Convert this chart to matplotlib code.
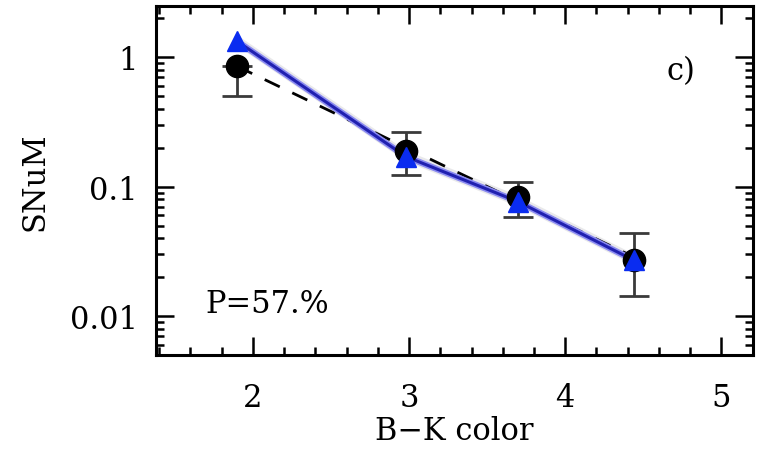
import numpy as np
import matplotlib.pyplot as plt
from matplotlib.ticker import FixedLocator, NullFormatter, LogLocator

# B-K colour bins
bk_color = [1.90, 2.98, 3.70, 4.44]

# observed rates (black circles) with asymmetric errors
snum_obs = [0.85, 0.19, 0.084, 0.027]
snum_lo = [0.50, 0.124, 0.058, 0.0143]
snum_hi = [0.85, 0.267, 0.109, 0.044]

# model rates (blue triangles)
snum_model = [1.33, 0.171, 0.0765, 0.027]

# power-law fit in log10(SNuM) vs colour
fit_x0 = 1.90
fit_logy0 = -0.07
fit_slope = -0.58

prob_text = "P=57.%"
panel_text = "c)"

plt.rcParams['font.family'] = ['DejaVu Serif']
plt.rcParams['mathtext.fontset'] = 'dejavuserif'

fig = plt.figure(figsize=(7.72, 4.52), dpi=100)
ax = fig.add_axes([0.202, 0.212, 0.773, 0.773])
ax.set_yscale('log')

# faint grey band around the model curve
xm = np.array(bk_color)
ym = np.array(snum_model)
ax.fill_between(xm, ym * 0.92, ym * 1.12, color='#d4d4d8', alpha=0.5, lw=0, zorder=1)

# dashed fit
xf = np.linspace(bk_color[0], bk_color[-1], 50)
ax.plot(xf, 10 ** (fit_logy0 + fit_slope * (xf - fit_x0)), color='black',
        lw=2, ls=(0, (6, 5)), zorder=2)

# model curve
ax.plot(bk_color, snum_model, color='#8a8af0', lw=4.5, zorder=3, solid_capstyle='butt')
ax.plot(bk_color, snum_model, color='#2020b0', lw=2.2, zorder=3)

# observations
yerr = [np.array(snum_obs) - np.array(snum_lo), np.array(snum_hi) - np.array(snum_obs)]
ax.errorbar(bk_color, snum_obs, yerr=yerr, fmt='none', ecolor='#3a3a3a',
            elinewidth=2, capsize=11, capthick=2, zorder=4)
ax.plot(bk_color, snum_obs, 'o', color='black', ms=16, zorder=5)
ax.plot(bk_color, snum_model, '^', color='#0a2cf0', ms=15, zorder=6)

ax.set_xlim(1.38, 5.2)
ax.set_ylim(0.005, 2.5)

ax.set_xticks([2, 3, 4, 5])
ax.xaxis.set_minor_locator(FixedLocator(np.arange(1.4, 5.21, 0.2)))
ax.yaxis.set_major_locator(FixedLocator([0.01, 0.1, 1]))
ax.set_yticklabels(['0.01', '0.1', '1'])
ax.yaxis.set_minor_locator(LogLocator(base=10, subs=np.arange(2, 10)))
ax.yaxis.set_minor_formatter(NullFormatter())

ax.tick_params(which='both', direction='in', top=True, right=True, width=1.8,
               labelsize=22)
ax.tick_params(which='major', length=13)
ax.tick_params(which='minor', length=6)
ax.tick_params(axis='x', which='major', pad=19)
ax.tick_params(axis='y', which='major', pad=13)
for sp in ax.spines.values():
    sp.set_linewidth(2.2)

ax.set_xlabel("B\u2212K color", fontsize=22, labelpad=2)
ax.set_ylabel("SNuM", fontsize=22, labelpad=14)

ax.text(0.083, 0.125, prob_text, transform=ax.transAxes, fontsize=22)
ax.text(0.855, 0.79, panel_text, transform=ax.transAxes, fontsize=22)

fig.savefig("out.png", dpi=100)
